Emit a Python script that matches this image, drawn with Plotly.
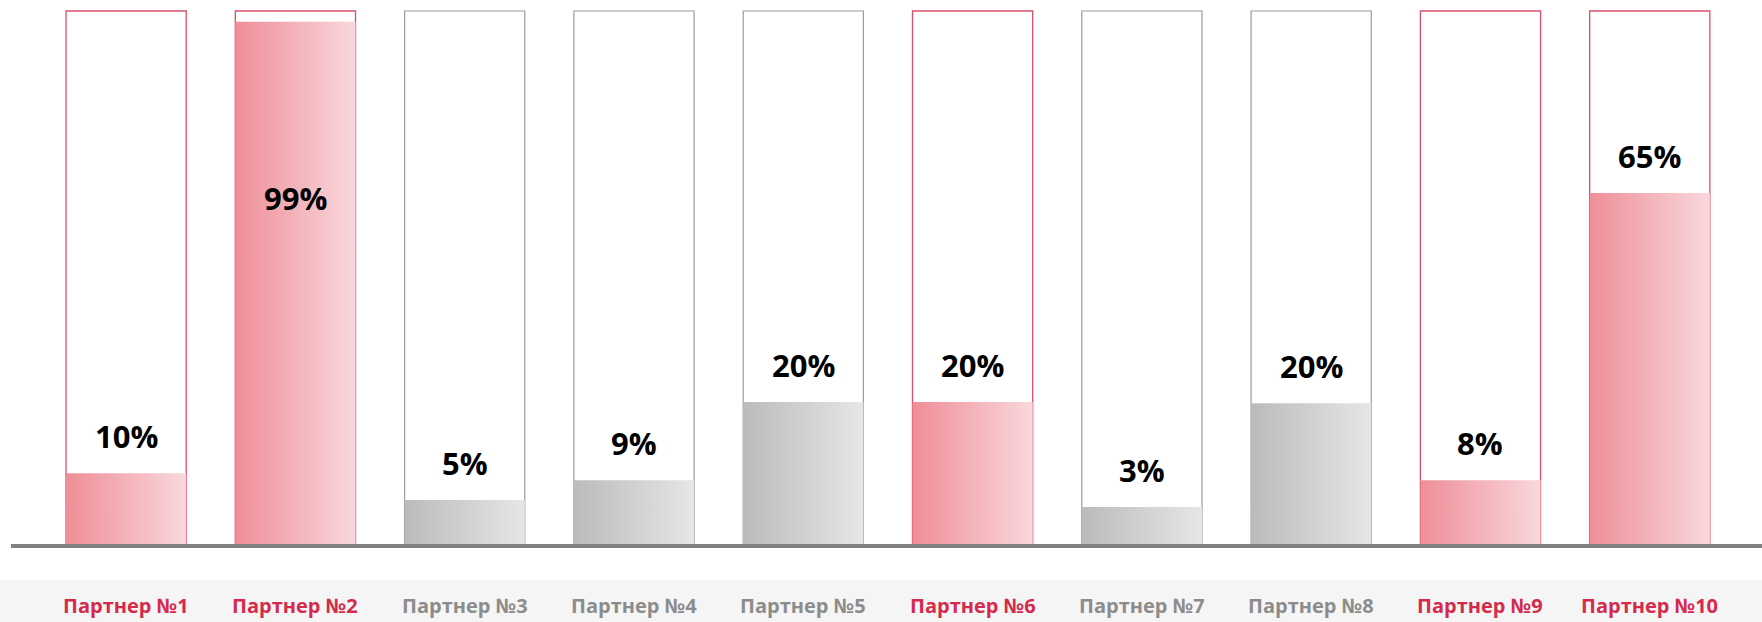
import plotly.graph_objects as go

# ---- data ----
partners = ["Партнер №1", "Партнер №2", "Партнер №3", "Партнер №4", "Партнер №5",
            "Партнер №6", "Партнер №7", "Партнер №8", "Партнер №9", "Партнер №10"]
share_labels = [10, 99, 5, 9, 20, 20, 3, 20, 8, 65]          # printed values, %
fill_height = [13.6, 98, 8.6, 12.3, 26.9, 26.9, 7.3, 26.7, 12.3, 66]  # drawn fill, % of box
highlighted = [True, True, False, False, False, True, False, False, True, True]
box_full = 100

# ---- styles ----
PINK_TEXT = "#D42A4C"
GRAY_TEXT = "#8C8C8C"
PINK_LINE = "#DC4F6C"
GRAY_LINE = "#9C9C9C"
PINK_SCALE = [[0, "#EF8E98"], [1, "#F8D8DC"]]
GRAY_SCALE = [[0, "#BBBBBB"], [1, "#E6E6E6"]]
W = 0.71
FONT = "Open Sans"

fig = go.Figure()

# gradient fills (scatter polygons built from the data values)
for i, (v, hl) in enumerate(zip(fill_height, highlighted)):
    x0, x1 = i - W / 2, i + W / 2
    fig.add_trace(go.Scatter(
        x=[x0, x1, x1, x0, x0], y=[0, 0, v, v, 0],
        mode="lines", line=dict(width=0), fill="toself",
        fillgradient=dict(type="horizontal", colorscale=PINK_SCALE if hl else GRAY_SCALE),
        hoverinfo="skip", showlegend=False,
    ))

# outline boxes (full height)
fig.add_trace(go.Bar(
    x=list(range(len(partners))), y=[box_full] * len(partners), width=W,
    marker=dict(color="rgba(0,0,0,0)",
                line=dict(color=[PINK_LINE if h else GRAY_LINE for h in highlighted],
                          width=[1.3 if h else 1.2 for h in highlighted])),
    hoverinfo="skip", showlegend=False,
))

annotations = []
for i, (lab, v, hl) in enumerate(zip(share_labels, fill_height, highlighted)):
    inside = v > 90
    annotations.append(dict(
        x=i, y=v, xref="x", yref="y", text=f"<b>{lab}%</b>", showarrow=False,
        yanchor="middle", yshift=-176 if inside else 37,
        font=dict(family=FONT, size=31, color="#000000"),
    ))
    annotations.append(dict(
        x=i, y=-11.2, xref="x", yref="y", text=f"<b>{partners[i]}</b>", showarrow=False,
        yanchor="middle",
        font=dict(family=FONT, size=20, color=PINK_TEXT if hl else GRAY_TEXT),
    ))

shapes = [
    # light band for the labels
    dict(type="rect", xref="paper", yref="paper", x0=0, x1=1, y0=0, y1=42 / 622,
         fillcolor="#F5F5F5", line=dict(width=0), layer="below"),
    # baseline
    dict(type="line", xref="paper", yref="y", x0=11 / 1762, x1=1, y0=0, y1=0,
         line=dict(color="#808080", width=4), layer="above"),
]

fig.update_layout(
    width=1762, height=622,
    margin=dict(l=0, r=0, t=0, b=0),
    paper_bgcolor="white", plot_bgcolor="white",
    barmode="overlay",
    xaxis=dict(range=[-0.745, 9.663], visible=False, fixedrange=True),
    yaxis=dict(range=[-14.2, 102.06], visible=False, fixedrange=True),
    annotations=annotations, shapes=shapes,
    showlegend=False,
)

fig.write_html("out.html", config={"displayModeBar": False},
               post_script="document.body.style.margin='0';document.body.style.overflow='hidden';")
